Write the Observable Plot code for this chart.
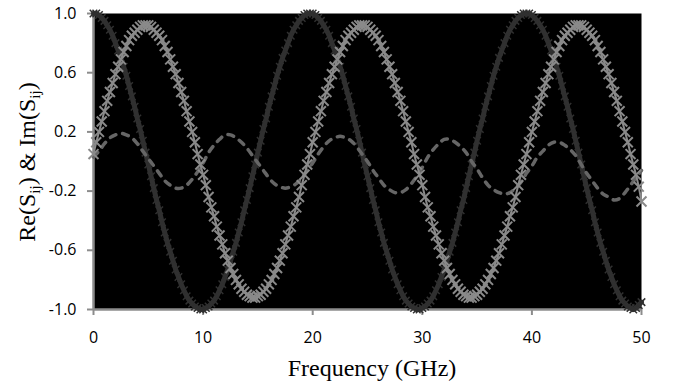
<!DOCTYPE html>
<html><head><meta charset="utf-8">
<script src="https://cdn.jsdelivr.net/npm/d3@7"></script>
<script src="https://cdn.jsdelivr.net/npm/@observablehq/plot@0.6"></script>
<style>body{margin:0;background:#fff}</style>
</head><body><div id="chart"></div>
<script>
// Sweep samples every 0.25 GHz (0..50 GHz)
const sweepStepGHz = 0.25;
const dashStepGHz = 0.5;

// dark series with small x markers
const seriesDark = [
1.00,1.00,0.99,0.97,0.95,0.92,0.89,0.85,0.80,0.75,
0.70,0.64,0.58,0.51,0.44,0.37,0.29,0.22,0.14,0.06,
-0.02,-0.10,-0.18,-0.26,-0.33,-0.41,-0.48,-0.55,-0.61,-0.67,
-0.73,-0.78,-0.83,-0.87,-0.91,-0.94,-0.96,-0.98,-0.99,-1.00,
-1.00,-0.99,-0.98,-0.96,-0.94,-0.91,-0.87,-0.83,-0.78,-0.73,
-0.67,-0.61,-0.55,-0.48,-0.41,-0.33,-0.26,-0.18,-0.10,-0.02,
0.06,0.14,0.22,0.29,0.37,0.44,0.51,0.58,0.64,0.70,
0.75,0.80,0.85,0.89,0.92,0.95,0.97,0.99,1.00,
1.00,1.00,0.99,0.97,0.95,0.92,0.89,0.85,0.80,0.75,
0.70,0.64,0.58,0.51,0.44,0.37,0.29,0.22,0.14,0.06,
-0.02,-0.10,-0.18,-0.26,-0.33,-0.41,-0.48,-0.55,-0.61,-0.67,
-0.73,-0.78,-0.83,-0.87,-0.91,-0.94,-0.96,-0.98,-0.99,-1.00,
-1.00,-0.99,-0.98,-0.96,-0.94,-0.91,-0.87,-0.83,-0.78,-0.73,
-0.67,-0.61,-0.55,-0.48,-0.41,-0.33,-0.26,-0.18,-0.10,-0.02,
0.06,0.14,0.22,0.29,0.37,0.44,0.51,0.58,0.64,0.70,
0.75,0.80,0.85,0.89,0.92,0.95,0.97,0.99,1.00,
1.00,1.00,0.99,0.97,0.95,0.92,0.89,0.85,0.80,0.75,
0.70,0.64,0.58,0.51,0.44,0.37,0.29,0.22,0.14,0.06,
-0.02,-0.10,-0.18,-0.26,-0.33,-0.41,-0.48,-0.55,-0.61,-0.67,
-0.73,-0.78,-0.83,-0.87,-0.91,-0.94,-0.96,-0.98,-0.99,-1.00,
-0.99,-0.97,-0.95
];

// light grey series with large x markers
const seriesLight = [
0.05,0.13,0.20,0.27,0.34,0.41,0.47,0.53,0.59,0.64,0.69,0.74,0.78,0.82,0.85,0.87,0.89,0.91,0.92,
0.92,0.92,0.91,0.89,0.87,0.85,0.82,0.78,0.74,0.69,0.64,0.59,0.53,0.47,0.41,0.34,0.27,0.20,0.13,0.05,
-0.02,-0.09,-0.16,-0.24,-0.31,-0.37,-0.44,-0.50,-0.56,-0.62,-0.67,-0.72,-0.76,-0.80,-0.83,-0.86,-0.88,-0.90,-0.91,-0.92,
-0.92,-0.91,-0.90,-0.88,-0.86,-0.83,-0.80,-0.76,-0.72,-0.67,-0.62,-0.56,-0.50,-0.44,-0.37,-0.31,-0.24,-0.16,-0.09,-0.02,
0.05,0.13,0.20,0.27,0.34,0.41,0.47,0.53,0.59,0.64,0.69,0.74,0.78,0.82,0.85,0.87,0.89,0.91,0.92,
0.92,0.92,0.91,0.89,0.87,0.85,0.82,0.78,0.74,0.69,0.64,0.59,0.53,0.47,0.41,0.34,0.27,0.20,0.13,0.05,
-0.02,-0.09,-0.16,-0.24,-0.31,-0.37,-0.44,-0.50,-0.56,-0.62,-0.67,-0.72,-0.76,-0.80,-0.83,-0.86,-0.88,-0.90,-0.91,-0.92,
-0.92,-0.91,-0.90,-0.88,-0.86,-0.83,-0.80,-0.76,-0.72,-0.67,-0.62,-0.56,-0.50,-0.44,-0.37,-0.31,-0.24,-0.16,-0.09,-0.02,
0.05,0.13,0.20,0.27,0.34,0.41,0.47,0.53,0.59,0.64,0.69,0.74,0.78,0.82,0.85,0.87,0.89,0.91,0.92,
0.92,0.92,0.91,0.89,0.87,0.85,0.82,0.78,0.74,0.69,0.64,0.59,0.53,0.47,0.41,0.34,0.27,0.20,0.13,0.05,
-0.02,-0.09,-0.17,-0.27
];

// dashed series, every 0.5 GHz
const seriesDashed = [
0.03,0.07,0.12,0.16,0.18,0.19,0.18,0.16,0.12,0.07,
0.02,-0.03,-0.08,-0.13,-0.16,-0.18,-0.18,-0.16,-0.12,-0.07,
-0.01,0.06,0.11,0.15,0.18,0.18,0.16,0.13,0.09,0.04,
-0.01,-0.06,-0.11,-0.15,-0.17,-0.18,-0.17,-0.15,-0.11,-0.06,
-0.01,0.05,0.10,0.14,0.16,0.17,0.16,0.14,0.10,0.05,
0.00,-0.06,-0.11,-0.16,-0.19,-0.21,-0.21,-0.19,-0.15,-0.10,
-0.04,0.03,0.08,0.12,0.15,0.15,0.13,0.10,0.06,0.00,
-0.05,-0.11,-0.16,-0.19,-0.21,-0.22,-0.21,-0.18,-0.14,-0.08,
-0.03,0.03,0.07,0.11,0.13,0.13,0.11,0.08,0.04,-0.02,
-0.08,-0.13,-0.18,-0.22,-0.24,-0.26,-0.25,-0.21,-0.16,-0.11,
-0.06
];

const xTicks = [0, 10, 20, 30, 40, 50];
const yTicks = [1.0, 0.6, 0.2, -0.2, -0.6, -1.0];
const xTitle = "Frequency (GHz)";

const darkData = seriesDark.map((v, i) => ({f: i * sweepStepGHz, v}));
const lightData = seriesLight.map((v, i) => ({f: i * sweepStepGHz, v}));
const dashData = seriesDashed.map((v, i) => ({f: i * dashStepGHz, v}));

const axisGrey = "#8c8c8c";
const plot = Plot.plot({
  width: 675, height: 383,
  marginLeft: 93, marginRight: 34, marginTop: 13, marginBottom: 74,
  style: {fontFamily: "'Open Sans', sans-serif", fontSize: "16px", background: "white", color: "#000"},
  x: {domain: [0, 50]},
  y: {domain: [-1, 1]},
  marks: [
    Plot.frame({fill: "black", stroke: null}),
    Plot.axisY({ticks: yTicks, tickFormat: d => d.toFixed(1), tickSize: 6, tickPadding: 11, stroke: axisGrey, strokeWidth: 2, fill: "#000", label: null}),
    Plot.axisX({ticks: xTicks, tickFormat: d => String(d), tickSize: 6, tickPadding: 16, stroke: axisGrey, strokeWidth: 2, fill: "#000", label: null}),
    Plot.ruleX([0], {stroke: axisGrey, strokeWidth: 2.5}),
    Plot.ruleY([-1], {stroke: axisGrey, strokeWidth: 2.5}),
    Plot.line(darkData, {x: "f", y: "v", stroke: "#303030", strokeWidth: 5}),
    Plot.dot(darkData, {x: "f", y: "v", symbol: "times", r: 3.5, stroke: "#303030", strokeWidth: 1.5}),
    Plot.line(dashData, {x: "f", y: "v", stroke: "#666666", strokeWidth: 3.5, strokeDasharray: "6,7", strokeLinecap: "round", curve: "catmull-rom"}),
    Plot.line(lightData, {x: "f", y: "v", stroke: "#8a8a8a", strokeWidth: 2}),
    Plot.dot(lightData, {x: "f", y: "v", symbol: "times", r: 4.6, stroke: "#8a8a8a", strokeWidth: 2})
  ]
});

const svg = d3.select(plot);
const serif = "'Liberation Serif','Times New Roman',serif";
svg.append("text")
  .attr("x", 372).attr("y", 376)
  .attr("text-anchor", "middle")
  .style("font-family", serif).style("font-size", "24px").attr("fill", "#000")
  .text(xTitle);
const yt = svg.append("text")
  .attr("transform", "translate(35,162) rotate(-90)")
  .attr("text-anchor", "middle")
  .style("font-family", serif).style("font-size", "24px").attr("fill", "#000");
yt.append("tspan").text("Re(S");
yt.append("tspan").attr("dy", 5).style("font-size", "15px").text("ij");
yt.append("tspan").attr("dy", -5).text(") & Im(S");
yt.append("tspan").attr("dy", 5).style("font-size", "15px").text("ij");
yt.append("tspan").attr("dy", -5).text(")");

document.getElementById("chart").appendChild(plot);
</script>
</body></html>
